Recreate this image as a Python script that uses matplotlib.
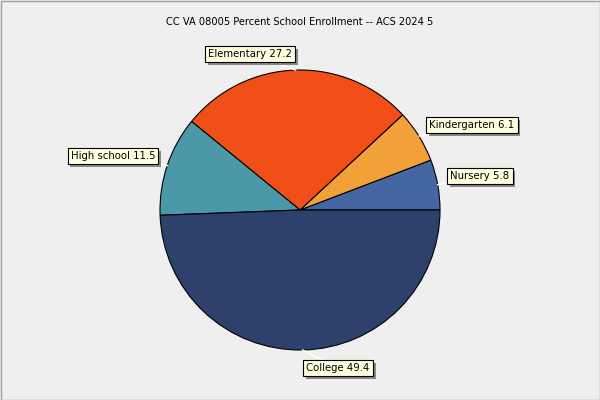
import numpy as np
import matplotlib.pyplot as plt
import matplotlib.patheffects as pe
from matplotlib.patches import Rectangle

# data
categories = ["Nursery", "Kindergarten", "Elementary", "High school", "College"]
values = [5.8, 6.1, 27.2, 11.5, 49.4]
colors = ["#4466a2", "#f2a03a", "#f24e17", "#4b98a9", "#2d416c"]
title = "CC VA 08005 Percent School Enrollment -- ACS 2024 5"

# label box centers (pixel coords, y down)
label_pos = [(480, 176), (472, 125), (250, 54), (113, 156), (338, 368)]

W, H = 600, 400
cx, cy, r = 300, 210, 140

fig = plt.figure(figsize=(6, 4), dpi=100)
fig.patch.set_facecolor("#efefef")
ax = fig.add_axes([0, 0, 1, 1])
ax.set_facecolor("#efefef")

wedges, _ = ax.pie(values, colors=colors, startangle=0, counterclock=True,
                   center=(cx, H - cy), radius=r,
                   wedgeprops=dict(edgecolor="black", linewidth=0.8))
ax.set_xlim(0, W)
ax.set_ylim(0, H)
ax.set_aspect("equal")
ax.axis("off")

# leader lines and labels
total = sum(values)
start = 0.0
for name, v, (lx, ly) in zip(categories, values, label_pos):
    mid = np.deg2rad(start + v / total * 360 / 2)
    start += v / total * 360
    ex, ey = cx + r * np.cos(mid), (H - cy) + r * np.sin(mid)
    ax.plot([ex, lx], [ey, H - ly], color="white", linewidth=1, zorder=1)
    t = ax.text(lx, H - ly, f"{name} {v}", fontsize=7.3, ha="center", va="center",
                color="black", zorder=4,
                bbox=dict(boxstyle="square,pad=0.3", facecolor="#ffffe0",
                          edgecolor="black", linewidth=0.8))
    t.get_bbox_patch().set_path_effects([
        pe.SimplePatchShadow(offset=(2, -2), shadow_rgbFace="#888888", alpha=1),
        pe.Normal()])

ax.text(W / 2, H - 22, title, fontsize=7.1, ha="center", va="center")

# panel border
ax.add_patch(Rectangle((0.5, 0.5), W - 1, H - 1, fill=False, edgecolor="#a0a0a0",
                       linewidth=1, zorder=5))

fig.savefig("out.png", dpi=100, facecolor=fig.get_facecolor())
